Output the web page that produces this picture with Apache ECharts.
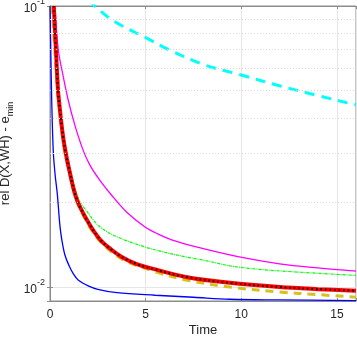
<!DOCTYPE html>
<html>
<head>
<meta charset="utf-8">
<script src="https://cdn.jsdelivr.net/npm/echarts@6/dist/echarts.min.js"></script>
<style>
  html, body { margin: 0; padding: 0; background: #fff; }
  #chart { width: 357px; height: 338px; }
</style>
</head>
<body>
<div id="chart"></div>
<script>
// values (time, relative error above e_min)
const tBlue = [0, 0.04, 0.09, 0.17, 0.27, 0.38, 0.52, 0.62, 0.78, 1.0, 1.2, 1.47, 2.0, 2.5, 3.5, 5.5, 7.5, 9.4, 12, 16];
const blue = [0.1, 0.07, 0.046, 0.0305, 0.025, 0.0215, 0.0165, 0.0147, 0.013, 0.0119, 0.0112, 0.0106, 0.0101, 0.00982, 0.00955, 0.00935, 0.0092, 0.00905, 0.009, 0.00895];

const tMagenta = [0.26, 0.43, 0.65, 0.95, 1.3, 1.73, 2.08, 2.6, 3.2, 4.0, 4.95, 5.6, 6.4, 7.65, 9.9, 12, 14, 16];
const magenta = [0.1, 0.07, 0.058, 0.0463, 0.0377, 0.0307, 0.0272, 0.024, 0.0213, 0.0185, 0.0164, 0.0155, 0.0147, 0.0139, 0.0128, 0.0121, 0.0117, 0.0114];

const tGreen = [0.2, 0.3, 0.42, 0.6, 0.75, 1.0, 1.47, 2.0, 2.6, 3.5, 4.95, 6.0, 7.1, 8.2, 9.4, 11, 13, 16];
const green = [0.1, 0.072, 0.05, 0.039, 0.0335, 0.0275, 0.0208, 0.0183, 0.0164, 0.0151, 0.0139, 0.0133, 0.0128, 0.0124, 0.0119, 0.01155, 0.0113, 0.011];

const tMain = [0.2, 0.3, 0.42, 0.5, 0.6, 0.75, 1.0, 1.4, 2.0, 2.6, 3.2, 3.75, 4.5, 5.4, 7.1, 9.4, 12, 14, 16];
const black = [0.1, 0.072, 0.05, 0.044, 0.038, 0.032, 0.0262, 0.0205, 0.017, 0.0148, 0.0136, 0.0128, 0.0121, 0.0116, 0.01086, 0.01035, 0.01, 0.00983, 0.0097];
const red = [0.1, 0.072, 0.05, 0.044, 0.038, 0.032, 0.0262, 0.0205, 0.017, 0.0148, 0.0136, 0.0128, 0.0121, 0.0116, 0.01086, 0.01035, 0.01, 0.00983, 0.0097];

const tYellow = [0.12, 0.2, 0.3, 0.42, 0.6, 0.75, 1.0, 1.4, 2.0, 2.6, 3.75, 5.4, 7.1, 9.4, 12, 14, 16];
const yellow = [0.1, 0.078, 0.063, 0.048, 0.037, 0.031, 0.0258, 0.0202, 0.0167, 0.0146, 0.0126, 0.0114, 0.0106, 0.01, 0.0096, 0.0094, 0.0092];

const tCyan = [2.0, 2.34, 3.1, 3.78, 5.0, 6.24, 8.0, 10.0, 12, 14, 15.8, 16];
const cyan = [0.105, 0.1, 0.0906, 0.0849, 0.0772, 0.0698, 0.062, 0.0568, 0.052, 0.048, 0.0448, 0.0445];

const xTicks = [0, 5, 10, 15];

const font = 'Liberation Sans';
const textColor = '#262626';
const boxColor = '#8c8c8c';

function pairs(t, v) {
    return t.map((x, i) => [x, v[i]]);
}

function line(name, t, v, color, width, type) {
    return {
        name: name,
        type: 'line',
        data: pairs(t, v),
        showSymbol: false,
        smooth: 0.35,
        clip: true,
        silent: true,
        lineStyle: { color: color, width: width, type: type || 'solid' }
    };
}

function powLabel(v) {
    const e = Math.log10(v);
    const r = Math.round(e);
    if (Math.abs(e - r) > 1e-6) return '';
    return '{b|10}{s|' + r + '}';
}

const chart = echarts.init(document.getElementById('chart'));

const minorLevels = [0.02, 0.03, 0.04, 0.05, 0.06, 0.07, 0.08, 0.09];

chart.setOption({
    animation: false,
    backgroundColor: '#fff',
    grid: {
        left: 50, top: 6, width: 306, height: 295,
        containLabel: false,
        outerBoundsMode: 'none',
        show: true, borderColor: boxColor, borderWidth: 1, backgroundColor: 'transparent'
    },
    xAxis: [{
        type: 'value',
        min: 0, max: 16, interval: 5,
        name: 'Time',
        nameLocation: 'middle',
        nameGap: 23,
        nameMoveOverlap: false,
        nameTextStyle: { fontFamily: font, fontSize: 13, color: textColor },
        axisLine: { show: true, lineStyle: { color: boxColor, width: 1 } },
        axisTick: { show: true, inside: true, length: 3, lineStyle: { color: boxColor } },
        axisLabel: {
            fontFamily: font, fontSize: 12, color: textColor, margin: 8,
            formatter: v => (xTicks.indexOf(v) >= 0 ? String(v) : '')
        },
        splitLine: { show: true, lineStyle: { color: '#e6e6e6', width: 1 } }
    }, {
        type: 'value', position: 'top',
        min: 0, max: 16, interval: 5,
        axisLine: { show: true, lineStyle: { color: boxColor } },
        axisTick: { show: true, inside: true, length: 3, lineStyle: { color: boxColor } },
        axisLabel: { show: false },
        splitLine: { show: false }
    }],
    yAxis: [{
        type: 'log',
        min: 0.00892, max: 0.1,
        name: 'rel D(X,WH) - e{sub|min}',
        nameLocation: 'middle',
        nameGap: 35,
        nameMoveOverlap: false,
        nameTextStyle: {
            fontFamily: font, fontSize: 13, color: textColor,
            rich: { sub: { fontFamily: font, fontSize: 9, color: textColor, verticalAlign: 'bottom', lineHeight: 20 } }
        },
        axisLine: { show: true, lineStyle: { color: boxColor, width: 1 } },
        axisTick: { show: true, inside: true, length: 3, lineStyle: { color: boxColor } },
        axisLabel: {
            fontFamily: font, fontSize: 12, color: textColor, margin: 5,
            formatter: powLabel,
            rich: {
                b: { fontFamily: font, fontSize: 12, color: textColor, verticalAlign: 'bottom', lineHeight: 18 },
                s: { fontFamily: font, fontSize: 9, color: textColor, verticalAlign: 'top', lineHeight: 18 }
            }
        },
        splitLine: { show: true, lineStyle: { color: '#e6e6e6', width: 1 } }
    }, {
        type: 'log', position: 'right',
        min: 0.00892, max: 0.1,
        axisLine: { show: true, lineStyle: { color: boxColor } },
        axisTick: { show: true, inside: true, length: 3, lineStyle: { color: boxColor } },
        axisLabel: { show: false },
        splitLine: { show: false }
    }],
    series: [
        {
            type: 'line', data: [], silent: true,
            markLine: {
                silent: true, symbol: 'none', label: { show: false },
                lineStyle: { color: '#d6d6d6', type: [1, 2], width: 1 },
                data: minorLevels.map(v => ({ yAxis: v }))
            }
        },
        line('blue', tBlue, blue, '#0000ff', 1.3),
        line('magenta', tMagenta, magenta, '#ff00ff', 1.3),
        line('green', tGreen, green, '#00ff00', 1.2, [3, 1, 1, 1]),
        line('yellow', tYellow, yellow, '#d6c21e', 3, [8, 6]),
        line('red', tMain, red, '#ff0000', 4),
        line('black', tMain, black, '#000000', 2, [1.5, 3]),
        line('cyan', tCyan, cyan, '#00ffff', 3, [10, 7])
    ]
});
</script>
</body>
</html>
